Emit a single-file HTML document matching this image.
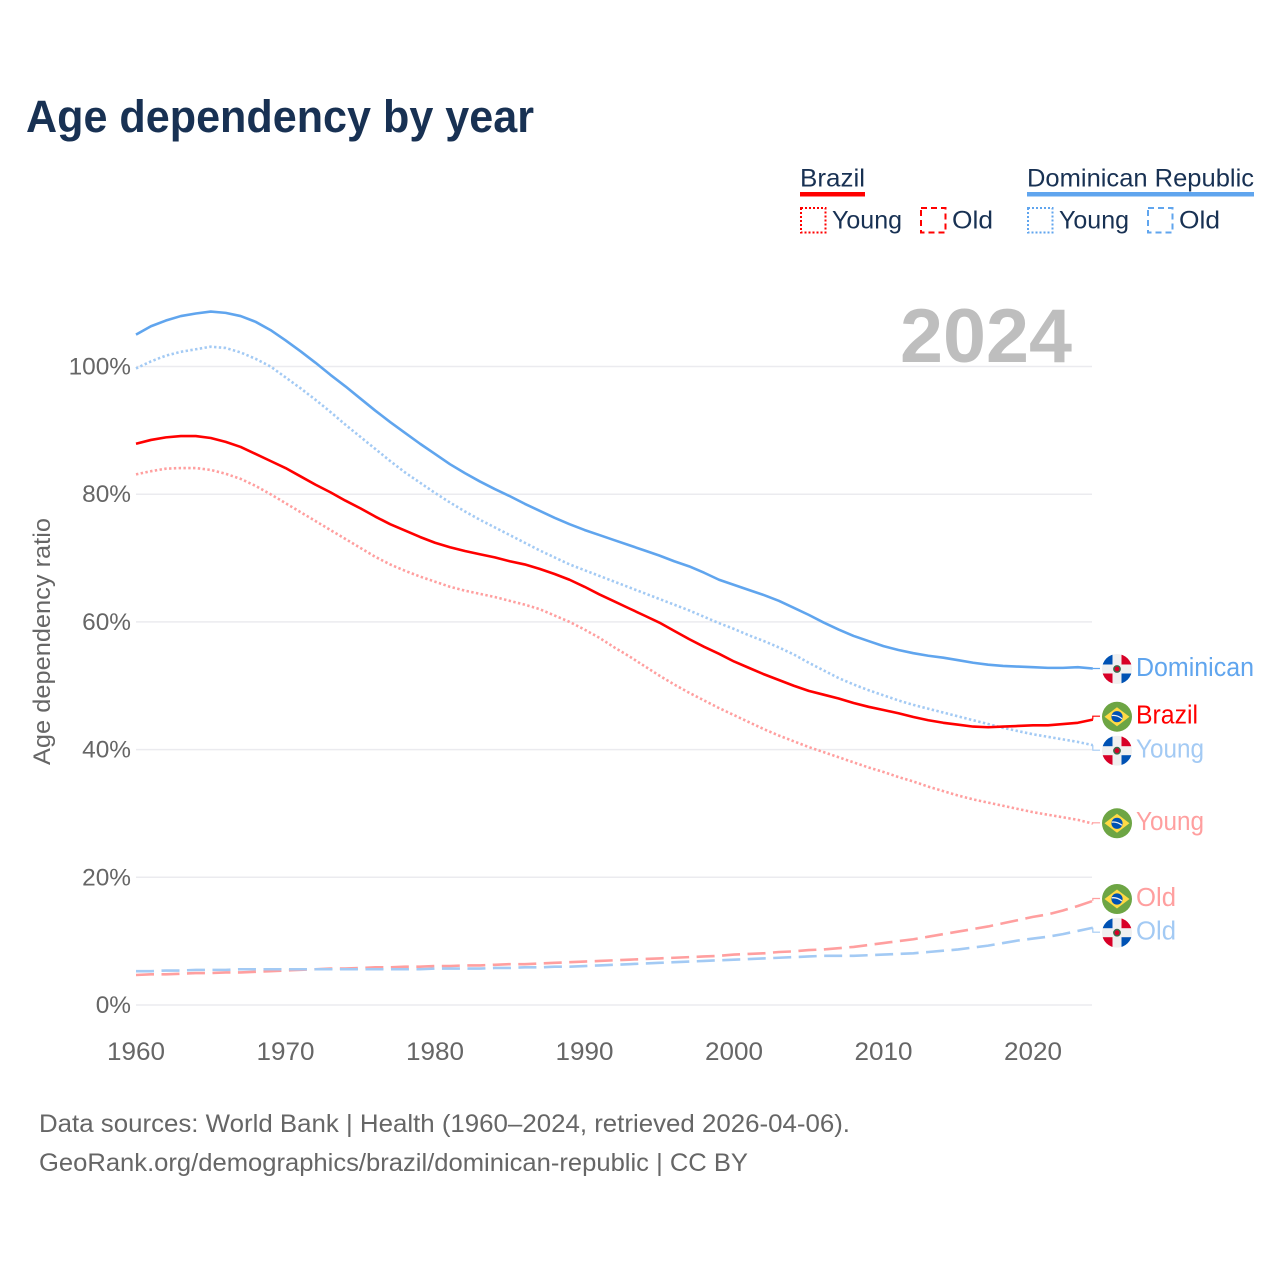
<!DOCTYPE html>
<html lang="en">
<head>
<meta charset="utf-8">
<title>Age dependency by year</title>
<style>
html,body{margin:0;padding:0;background:#fff;width:1280px;height:1280px;overflow:hidden}
svg{display:block}
text{font-family:"Liberation Sans",sans-serif}
</style>
</head>
<body>
<svg id="chart" xmlns="http://www.w3.org/2000/svg" width="1280" height="1280" viewBox="0 0 1280 1280">
  <defs>
    <clipPath id="flag-clip"><circle cx="0" cy="0" r="15"/></clipPath>
    <symbol id="flag-br" overflow="visible">
      <circle cx="0" cy="0" r="15" fill="#6da544"/>
      <path d="M0 -9.5L12.5 0L0 9.5L-12.5 0Z" fill="#ffda44"/>
      <circle cx="0" cy="0" r="5.6" fill="#0052b4"/>
      <path d="M-5.2 -1.2Q0 -2 5 2" fill="none" stroke="#f0f0f0" stroke-width="1.3"/>
    </symbol>
    <symbol id="flag-do" overflow="visible">
      <g clip-path="url(#flag-clip)">
        <rect x="-15" y="-15" width="30" height="30" fill="#f0f0f0"/>
        <rect x="-15" y="-15" width="10.5" height="10.5" fill="#0052b4"/>
        <rect x="4.5" y="-15" width="10.5" height="10.5" fill="#d80027"/>
        <rect x="-15" y="4.5" width="10.5" height="10.5" fill="#d80027"/>
        <rect x="4.5" y="4.5" width="10.5" height="10.5" fill="#0052b4"/>
      </g>
      <circle cx="0" cy="0" r="3.9" fill="#3c6a4a"/>
      <circle cx="0" cy="0" r="2.4" fill="#d80027"/>
    </symbol>
  </defs>

  <text x="26" y="132" font-size="45" font-weight="700" fill="#183153" textLength="508" lengthAdjust="spacingAndGlyphs">Age dependency by year</text>

  <g font-size="25" fill="#183153">
    <text x="800" y="186.3" textLength="65" lengthAdjust="spacingAndGlyphs">Brazil</text>
    <rect x="800" y="192" width="65" height="4.5" fill="#ff0000"/>
    <rect x="801" y="208" width="24.5" height="24.5" fill="none" stroke="#ff0000" stroke-width="2" stroke-dasharray="2 2"/>
    <text x="832" y="228.3" textLength="70" lengthAdjust="spacingAndGlyphs">Young</text>
    <rect x="921" y="208" width="24.5" height="24.5" fill="none" stroke="#ff0000" stroke-width="2" stroke-dasharray="6 4"/>
    <text x="952" y="228.3" textLength="41" lengthAdjust="spacingAndGlyphs">Old</text>
    <text x="1027" y="186.3" textLength="227" lengthAdjust="spacingAndGlyphs">Dominican Republic</text>
    <rect x="1027" y="192" width="227" height="4.5" fill="#60a5ee"/>
    <rect x="1028" y="208" width="24.5" height="24.5" fill="none" stroke="#60a5ee" stroke-width="2" stroke-dasharray="2 2"/>
    <text x="1059" y="228.3" textLength="70" lengthAdjust="spacingAndGlyphs">Young</text>
    <rect x="1148" y="208" width="24.5" height="24.5" fill="none" stroke="#60a5ee" stroke-width="2" stroke-dasharray="6 4"/>
    <text x="1179" y="228.3" textLength="41" lengthAdjust="spacingAndGlyphs">Old</text>
  </g>

  <g id="grid"></g>
  <g id="y-ticks"></g>
  <g id="x-ticks"></g>

  <text x="1072" y="362" font-size="76" font-weight="700" fill="#bebebe" text-anchor="end" textLength="172" lengthAdjust="spacingAndGlyphs">2024</text>

  <text transform="translate(50 641.5) rotate(-90)" font-size="24" fill="#666" text-anchor="middle" textLength="247" lengthAdjust="spacingAndGlyphs">Age dependency ratio</text>

  <g id="series"></g>
  <g id="end-labels"></g>

  <g font-size="25" fill="#666">
    <text x="39" y="1132" textLength="811" lengthAdjust="spacingAndGlyphs">Data sources: World Bank | Health (1960–2024, retrieved 2026-04-06).</text>
    <text x="39" y="1171" textLength="709" lengthAdjust="spacingAndGlyphs">GeoRank.org/demographics/brazil/dominican-republic | CC BY</text>
  </g>
</svg>
<script>
const startYear = 1960;
const xTickLabels = [1960, 1970, 1980, 1990, 2000, 2010, 2020];
const yTickLabels = [0, 20, 40, 60, 80, 100];

const brazilTotal = [87.9,88.5,88.9,89.1,89.1,88.8,88.2,87.4,86.3,85.2,84.1,82.8,81.5,80.3,79.0,77.8,76.5,75.3,74.3,73.3,72.4,71.7,71.1,70.6,70.1,69.5,69.0,68.3,67.5,66.6,65.5,64.3,63.2,62.1,61.0,59.9,58.6,57.3,56.1,55.0,53.8,52.8,51.8,50.9,50.0,49.2,48.6,48.0,47.3,46.7,46.2,45.7,45.1,44.6,44.2,43.9,43.6,43.5,43.6,43.7,43.8,43.8,44.0,44.2,44.7];
const brazilYoung = [83.1,83.6,84.0,84.1,84.1,83.8,83.2,82.4,81.3,80.0,78.6,77.2,75.8,74.4,73.0,71.6,70.2,69.0,68.0,67.1,66.3,65.5,64.9,64.4,63.9,63.3,62.7,62.0,61.0,60.0,58.8,57.5,56.0,54.6,53.1,51.6,50.2,48.9,47.7,46.5,45.4,44.3,43.2,42.2,41.3,40.4,39.6,38.8,38.0,37.2,36.5,35.7,35.0,34.2,33.5,32.8,32.2,31.7,31.2,30.7,30.2,29.8,29.4,29.0,28.4];
const brazilOld = [4.7,4.8,4.8,4.9,5.0,5.0,5.1,5.1,5.2,5.3,5.4,5.5,5.6,5.7,5.7,5.8,5.9,5.9,6.0,6.0,6.1,6.1,6.2,6.2,6.3,6.4,6.4,6.5,6.6,6.7,6.8,6.9,7.0,7.1,7.2,7.3,7.4,7.5,7.6,7.7,7.9,8.0,8.1,8.3,8.4,8.6,8.7,8.9,9.1,9.4,9.7,10.0,10.3,10.7,11.1,11.5,11.9,12.3,12.8,13.3,13.8,14.2,14.8,15.5,16.3];
const dominicanTotal = [105.0,106.3,107.2,107.9,108.3,108.6,108.4,107.9,107.0,105.7,104.1,102.4,100.6,98.7,96.9,95.0,93.1,91.3,89.6,87.9,86.3,84.7,83.3,82.0,80.8,79.7,78.5,77.4,76.3,75.3,74.4,73.6,72.8,72.0,71.2,70.4,69.5,68.7,67.7,66.6,65.8,65.0,64.2,63.3,62.2,61.1,59.9,58.8,57.8,57.0,56.2,55.6,55.1,54.7,54.4,54.0,53.6,53.3,53.1,53.0,52.9,52.8,52.8,52.9,52.7];
const dominicanYoung = [99.7,100.8,101.7,102.3,102.7,103.1,102.9,102.2,101.2,100.0,98.3,96.6,94.8,92.9,90.9,89.0,87.1,85.2,83.4,81.8,80.2,78.7,77.3,76.0,74.8,73.6,72.4,71.2,70.1,69.0,68.1,67.2,66.3,65.4,64.5,63.6,62.7,61.8,60.8,59.8,58.9,57.9,57.0,56.0,54.9,53.6,52.4,51.2,50.2,49.3,48.5,47.7,47.0,46.4,45.8,45.2,44.6,44.0,43.4,42.9,42.4,42.0,41.6,41.2,40.7];
const dominicanOld = [5.3,5.3,5.4,5.4,5.5,5.5,5.5,5.6,5.6,5.6,5.6,5.6,5.6,5.6,5.6,5.6,5.6,5.6,5.6,5.6,5.7,5.7,5.7,5.7,5.8,5.8,5.9,5.9,6.0,6.0,6.1,6.2,6.3,6.4,6.5,6.6,6.7,6.8,6.9,7.0,7.1,7.2,7.3,7.4,7.5,7.6,7.7,7.7,7.7,7.8,7.9,8.0,8.1,8.3,8.5,8.7,9.0,9.3,9.7,10.1,10.4,10.7,11.1,11.6,12.1];

const SVGNS = 'http://www.w3.org/2000/svg';
const X0 = 136, PX_PER_YEAR = 14.95, Y0 = 1005, PX_PER_PCT = 6.385;
function xScale(year) { return X0 + (year - startYear) * PX_PER_YEAR; }
function yScale(pct) { return Y0 - pct * PX_PER_PCT; }
function make(tag, attrs, parent) {
  const el = document.createElementNS(SVGNS, tag);
  for (const k in attrs) el.setAttribute(k, attrs[k]);
  parent.appendChild(el);
  return el;
}

const gridG = document.getElementById('grid');
const yG = document.getElementById('y-ticks');
yTickLabels.forEach(function (v) {
  const line = make('line', {x1: X0, x2: 1092, y1: yScale(v), y2: yScale(v), stroke: '#ebebef', 'stroke-width': 1.5}, gridG);
  
  
  const t = make('text', {x: 131, y: yScale(v) + 8, 'text-anchor': 'end', 'font-size': 24.4, fill: '#666'}, yG);
  
  
  t.textContent = v + '%';
});

const xG = document.getElementById('x-ticks');
xTickLabels.forEach(function (y) {
  const t = make('text', {x: xScale(y), y: 1060, 'text-anchor': 'middle', 'font-size': 25, fill: '#666', textLength: 58, lengthAdjust: 'spacingAndGlyphs'}, xG);
  
  
  t.textContent = y;
});

const seriesG = document.getElementById('series');
const labelsG = document.getElementById('end-labels');

function drawLine(name, values, color, dash) {
  const pts = values.map(function (v, i) { return xScale(startYear + i).toFixed(2) + ' ' + yScale(v).toFixed(2); });
  const attrs = {d: 'M' + pts.join('L'), fill: 'none', stroke: color, 'stroke-width': 2.6, 'stroke-linejoin': 'round'};
  if (dash) attrs['stroke-dasharray'] = dash;
  const p = make('path', attrs, seriesG);
  
  
}

function drawEnd(name, values, color, flag, text, flagY, textWidth) {
  const endX = xScale(startYear + values.length - 1);
  const c = make('path', {d: 'M' + endX + ' ' + yScale(values[values.length - 1]).toFixed(2) + 'V' + (flagY - 0.5) + 'H1100', fill: 'none', stroke: color, 'stroke-width': 1.2}, labelsG);
  
  
  const u = make('use', {href: '#' + flag, x: 1117, y: flagY}, labelsG);
  
  
  const t = make('text', {x: 1136, y: flagY + 6.8, 'font-size': 25.5, fill: color, textLength: textWidth, lengthAdjust: 'spacingAndGlyphs'}, labelsG);
  
  
  t.textContent = text;
}

const RED = '#ff0000', BLUE = '#60a5ee', PINK = '#ff9f9f', SKY = '#a3caf4';
const DOT = '2.4 2.4', DASH = '18 7.5';

drawLine('brazil-old-line', brazilOld, PINK, DASH);
drawLine('brazil-young-line', brazilYoung, PINK, DOT);
drawLine('dominican-old-line', dominicanOld, SKY, DASH);
drawLine('dominican-young-line', dominicanYoung, SKY, DOT);
drawLine('brazil-total-line', brazilTotal, RED, null);
drawLine('dominican-total-line', dominicanTotal, BLUE, null);

drawEnd('dominican-total', dominicanTotal, BLUE, 'flag-do', 'Dominican', 669, 118);
drawEnd('brazil-total', brazilTotal, RED, 'flag-br', 'Brazil', 716.7, 62);
drawEnd('dominican-young', dominicanYoung, SKY, 'flag-do', 'Young', 750.7, 68);
drawEnd('brazil-young', brazilYoung, PINK, 'flag-br', 'Young', 823.3, 68);
drawEnd('brazil-old', brazilOld, PINK, 'flag-br', 'Old', 899, 40);
drawEnd('dominican-old', dominicanOld, SKY, 'flag-do', 'Old', 932.7, 40);
</script>
</body>
</html>
